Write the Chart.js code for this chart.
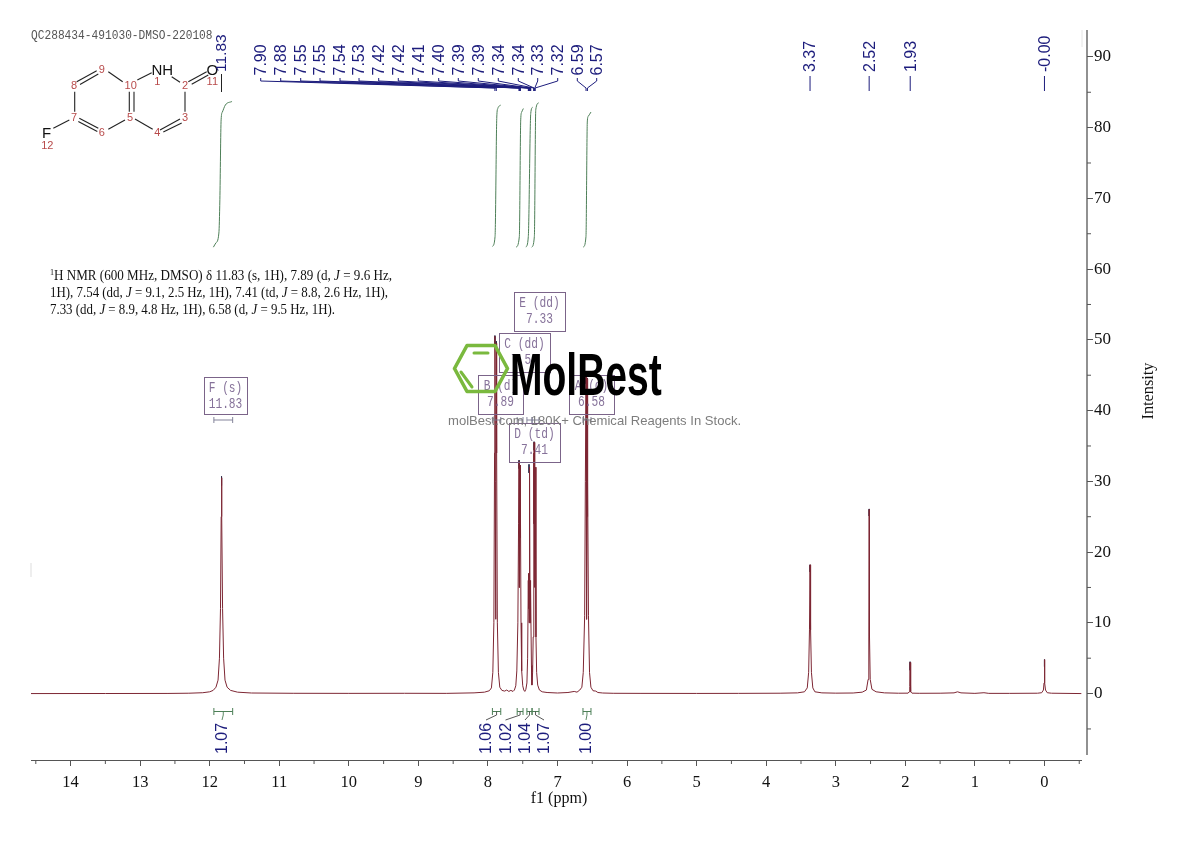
<!DOCTYPE html>
<html><head><meta charset="utf-8">
<style>html,body{margin:0;padding:0;background:#fff}canvas{display:block}</style>
<script src="https://cdn.jsdelivr.net/npm/chart.js@4/dist/chart.umd.min.js"></script>
</head><body><canvas id="c" width="1190" height="841"></canvas>
<script>
// ---------- data ----------
const spectrumPpm = [14.57,13.5,12.6,12.3,12.1,12.0,11.95,11.91,11.88,11.86,11.845,11.835,11.83,11.825,11.815,11.80,11.78,11.75,11.7,11.6,11.4,10.8,10,9.2,8.6,
 8.2,8.05,7.98,7.95,7.93,7.915,7.905,7.90,7.895,7.89,7.885,7.88,7.875,7.865,7.85,7.83,7.8,7.76,7.73,7.70,7.67,7.64,
 7.62,7.60,7.585,7.57,7.56,7.553,7.551,7.549,7.544,7.538,7.536,7.534,7.525,7.515,7.50,7.485,7.47,
 7.455,7.44,7.43,7.42,7.418,7.415,7.41,7.405,7.402,7.40,7.395,7.39,7.388,7.385,7.375,7.368,
 7.358,7.35,7.342,7.34,7.337,7.332,7.327,7.325,7.322,7.31,7.30,7.285,7.26,7.22,7.15,7.0,6.85,6.76,6.72,6.68,
 6.65,6.63,6.61,6.60,6.59,6.585,6.58,6.575,6.57,6.565,6.555,6.54,6.52,6.49,6.45,6.42,6.35,6.2,5.8,5,4.4,3.8,
 3.55,3.45,3.41,3.39,3.378,3.37,3.362,3.35,3.33,3.30,3.2,3.0,2.75,2.62,2.56,2.535,2.525,2.52,2.515,2.505,2.48,2.42,2.3,2.1,
 1.96,1.945,1.937,1.932,1.927,1.92,1.905,1.8,1.5,1.3,1.25,1.2,1.0,0.87,0.8,0.5,0.1,0.04,0.015,0.006,0,-0.006,-0.015,-0.04,-0.1,-0.53];
const spectrumIntensity = [0,0.01,0.02,0.05,0.12,0.25,0.45,0.9,1.9,5,12,25,30.5,25,12,5,1.9,0.9,0.45,0.2,0.08,0.04,0.03,0.04,0.03,
 0.1,0.2,0.4,0.8,3,10,34,50.5,30,10.5,30,49.5,34,10,3,0.9,0.45,0.35,0.5,0.3,0.45,0.3,
 0.5,1.1,3.2,10,24,32.8,22,30,15,32.3,22,30,10,3.2,1.1,0.5,0.3,
 0.6,1.5,5,16,12,17,10,32,24,32,10,16,12,15,4,1.2,
 3,8,34,24,35.5,15,33,24,32,8,3,1.2,0.5,0.25,0.15,0.08,0.15,0.3,0.2,0.5,
 0.9,3,11,30,45,25,10.5,25,44.5,30,11,3,0.9,0.4,0.35,0.15,0.08,0.04,0.03,0.02,0.03,0.05,
 0.1,0.25,0.8,3,9,18.2,9,3,0.8,0.25,0.1,0.06,0.08,0.2,0.5,2,8,26,8,2,0.6,0.25,0.1,0.05,
 0.06,0.25,1,4.4,1,0.25,0.06,0.04,0.05,0.1,0.25,0.1,0.03,0.12,0.03,0.03,0.05,0.12,0.5,1.5,4.8,1.5,0.5,0.12,0.05,0];
const tipPpm = [11.83,7.90,7.88,7.553,7.41,7.337,6.59,6.57,3.37,2.52,1.932,0];
const tipTop = [30.7,50.6,49.8,33,32.4,35.6,45,44.6,18.2,26.1,4.5,4.8];
const tipBottom = [29.4,49.3,48.6,31.8,31.2,34.4,43.8,43.4,17.2,25.1,3.3,3.8];
const integralPpmA = [11.947,11.911,11.868,11.854,11.836,11.818,11.775,11.679];
const integralValA = [63.1,63.7,65.1,69.8,81.1,82.2,83.2,83.7];
const integralPpmB = [7.936,7.898,7.873,7.859,7.816];
const integralValB = [63.2,64.6,81.5,82.7,83.2];
const integralPpmC = [7.596,7.549,7.529,7.515,7.491];
const integralValC = [63.1,64.6,81.1,82.2,82.7];
const integralPpmD = [7.453,7.420,7.385,7.357];
const integralValD = [63.1,64.6,82.0,82.9];
const integralPpmE = [7.371,7.333,7.313,7.270];
const integralValE = [63.1,64.6,82.5,83.5];
const integralPpmF = [6.630,6.591,6.572,6.558,6.519];
const integralValF = [63.1,64.6,80.8,81.6,82.2];
const peakLabelsLeft = ["7.90","7.88","7.55","7.55","7.54","7.53","7.42","7.42","7.41","7.40","7.39","7.39","7.34","7.34","7.33","7.32","6.59","6.57"];
const peakLabelsRight = ["3.37","2.52","1.93","-0.00"];
const integralLabels = ["1.07","1.06","1.02","1.04","1.07","1.00"];
const integralFrom = [11.94,7.936,7.58,7.44,7.366,6.634];
const integralTo = [11.67,7.816,7.496,7.366,7.266,6.519];
const multipletNames = ["F (s)","E (dd)","C (dd)","B (d)","A (d)","D (td)"];
const multipletShifts = ["11.83","7.33","7.54","7.89","6.58","7.41"];
const xTickStep = 1, yTickStep = 10;
const titleText = "QC288434-491030-DMSO-220108";
const nmrLines = [
 [["r","1",1],["r","H NMR (600 MHz, DMSO) δ 11.83 (s, 1H), 7.89 (d, "],["i","J"],["r"," = 9.6 Hz,"]],
 [["r","1H), 7.54 (dd, "],["i","J"],["r"," = 9.1, 2.5 Hz, 1H), 7.41 (td, "],["i","J"],["r"," = 8.8, 2.6 Hz, 1H),"]],
 [["r","7.33 (dd, "],["i","J"],["r"," = 8.9, 4.8 Hz, 1H), 6.58 (d, "],["i","J"],["r"," = 9.5 Hz, 1H)."]]
];
// ---------- drawing ----------
const zip=(a,b)=>a.map((v,i)=>({x:v,y:b[i]}));
const SERIF="'Liberation Serif',serif", SANS="'Liberation Sans',Arial,sans-serif", MONO="'Liberation Mono',monospace";
const NAVY="#1c1c7c", GREEN="#4d7f57", PURPLE="#7b6489", AXIS="#555";
const tips=[];tipPpm.forEach((p,i)=>{tips.push({x:p,y:tipTop[i]},{x:p,y:tipBottom[i]},{x:p,y:null});});
const integrals=[[integralPpmA,integralValA],[integralPpmB,integralValB],[integralPpmC,integralValC],[integralPpmD,integralValD],[integralPpmE,integralValE],[integralPpmF,integralValF]];

function line(ctx,pts,color,w){ctx.strokeStyle=color;ctx.lineWidth=w;ctx.beginPath();pts.forEach((p,i)=>i?ctx.lineTo(p[0],p[1]):ctx.moveTo(p[0],p[1]));ctx.stroke();}
function text(ctx,s,x,y,font,color,o={}){ctx.save();ctx.translate(x,y);if(o.rot)ctx.rotate(o.rot);if(o.sx)ctx.scale(o.sx,1);ctx.font=font;ctx.fillStyle=color;ctx.textAlign=o.align||"center";ctx.textBaseline=o.base||"middle";ctx.fillText(s,0,0);ctx.restore();}

const overlay={id:"overlay",afterDraw(ch){
 const ctx=ch.ctx,X=ch.scales.x,Y=ch.scales.y;
 const px=v=>X.getPixelForValue(v),py=v=>Y.getPixelForValue(v);
 ctx.save();
 // axis lines and minor ticks
 line(ctx,[[31,760.5],[1082,760.5]],AXIS,1.1);
 line(ctx,[[1087,30],[1087,755]],AXIS,1.3);
 for(let v=-0.5;v<14.6;v+=1)line(ctx,[[px(v),760.5],[px(v),764]],AXIS,1);
 for(let v=-5;v<93;v+=10)line(ctx,[[1087,py(v)],[1091,py(v)]],AXIS,1);
 line(ctx,[[31,563],[31,577]],"#ddd",1);
 line(ctx,[[1082,30],[1082,47]],"#e4e4e4",1);
 // y axis name
 text(ctx,"Intensity",1149,391,"16.3px "+SERIF,"#111",{rot:-Math.PI/2});
 // title
 text(ctx,titleText,31,35,"13.5px "+MONO,"#555",{align:"left",sx:0.83});
 // molecule
 [[[76.7,81.7],[96.7,70.7]],[[80,84.5],[98.3,74]],[[108.3,71.7],[122.7,81.7]],[[137.3,80],[151.7,72.7]],[[171.7,76.7],[180,82.3]],
  [[188.3,81.7],[206.7,71.7]],[[191.7,84.3],[208.3,75]],[[185,91.7],[185,111.7]],[[180,119],[160,130]],[[181.7,123],[163.3,132]],
  [[152.7,129.3],[135,119]],[[129.3,91.7],[129.3,111.7]],[[134,91.7],[134,111.7]],[[125,120],[108.3,129.3]],[[98.3,128.3],[79.3,118.3]],
  [[97.3,131.5],[78.3,121.5]],[[74.7,91.7],[74.7,111.7]],[[69.3,120],[53.3,128.3]]].forEach(b=>line(ctx,b,"#222",1.1));
 [["9",101.7,70],["8",74,86],["10",130.7,86],["1",157.3,82.3],["2",185,86],["11",212.3,82.3],["3",185,117.7],["5",130,118.3],["7",74,117.7],["6",101.7,133.3],["4",157.3,133.3],["12",47.3,146]]
  .forEach(a=>text(ctx,a[0],a[1],a[2],"11px "+SANS,"#b84a4a"));
 [["NH",162.3,70.7],["O",212.3,70.7],["F",46.7,134]].forEach(a=>text(ctx,a[0],a[1],a[2],"15px "+SANS,"#111"));
 // NMR text
 const widths=[342,338,285],bases=[280,297,314];
 nmrLines.forEach((runs,i)=>{
  const fnt=r=>(r[2]?"9px ":(r[0]==="i"?"italic 14.5px ":"14.5px "))+SERIF;
  let tot=0;runs.forEach(r=>{ctx.font=fnt(r);tot+=ctx.measureText(r[1]).width;});
  const s=widths[i]/tot;let x=50;
  runs.forEach(r=>{ctx.font=fnt(r);const w=ctx.measureText(r[1]).width;
   text(ctx,r[1],x,bases[i]-(r[2]?5:0),fnt(r),"#111",{align:"left",base:"alphabetic",sx:s});x+=w*s;});
 });
 // peak label leaders and labels
 const lblFont="16px "+SANS,lblRot=-Math.PI/2;
 const leftX=[260.7,280.7,300.7,320,340,359,378.7,398.3,418.3,438.7,458.3,478.3,498.3,518.3,537.7,557.7,577.3,596.7];
 const parse=s=>parseFloat(s);
 const leaderPeak=[7.90,7.88,7.553,7.549,7.538,7.534,7.42,7.415,7.405,7.40,7.39,7.385,7.342,7.337,7.327,7.322,6.59,6.57];
 peakLabelsLeft.forEach((s,i)=>{
  const lx=leftX[i],xp=px(leaderPeak[i]);
  line(ctx,[[lx,78],[lx,81],[xp,88],[xp,91]],NAVY,1);
  text(ctx,s,lx+1,75.5,lblFont,NAVY,{rot:lblRot,align:"left"});
 });
 text(ctx,"11.83",221.5,72,"15.5px "+SANS,NAVY,{rot:lblRot,align:"left"});
 line(ctx,[[221.5,74],[221.5,92]],"#222",1);
 peakLabelsRight.forEach(s=>{
  const v=Math.abs(parse(s)),xp=px(v);
  line(ctx,[[xp,76],[xp,91]],NAVY,1);
  text(ctx,s,xp+1,72,lblFont,NAVY,{rot:lblRot,align:"left"});
 });
 // multiplet boxes
 const boxes=[[204,377,43,37],[514,292,51,39],[499,333,51,39],[478,375,45,39],[569,375,45,39],[509,423,51,39]];
 boxes.forEach((b,i)=>{
  ctx.strokeStyle=PURPLE;ctx.lineWidth=1;ctx.strokeRect(b[0]+.5,b[1]+.5,b[2],b[3]);
  const c=b[0]+b[2]/2;
  text(ctx,multipletNames[i],c,b[1]+11.5,"14px "+MONO,"#86729a",{sx:0.8});
  text(ctx,multipletShifts[i],c,b[1]+27.5,"14px "+MONO,"#86729a",{sx:0.8});
 });
 // integrals: brackets on both levels and labels
 const lblX=[222,486,505.5,525,544,586];
 integralLabels.forEach((s,i)=>{
  const a=px(integralFrom[i]),b=px(integralTo[i]),yb=711.5,c=(a+b)/2;
  line(ctx,[[a,yb],[b,yb]],GREEN,1);line(ctx,[[a,yb-3.5],[a,yb+3.5]],GREEN,1);line(ctx,[[b,yb-3.5],[b,yb+3.5]],GREEN,1);
  line(ctx,[[c,yb],[c,715],[lblX[i],720]],i===0||i===5?GREEN:"#444",0.9);
  text(ctx,s,lblX[i]+1,754,lblFont,NAVY,{rot:lblRot,align:"left"});
  const y2=420;
  line(ctx,[[a,y2],[b,y2]],"#777790",0.9);line(ctx,[[a,y2-3],[a,y2+3]],"#777790",0.9);line(ctx,[[b,y2-3],[b,y2+3]],"#777790",0.9);
 });
 // watermark
 const G="#7ab93e";
 ctx.lineJoin="round";ctx.lineCap="round";
 line(ctx,[[454.5,368.5],[467,345.5],[495,345.5],[507.5,368.5],[495,391.5],[467,391.5],[454.5,368.5]],G,3.6);
 line(ctx,[[474,353],[488,353]],G,3);
 line(ctx,[[461,372],[472,387]],G,3);
 ctx.lineCap="butt";
 text(ctx,"MolBest",510,395,"bold 60px "+SANS,"#000",{align:"left",base:"alphabetic",sx:0.65});
 text(ctx,"molBest.com, 180K+ Chemical Reagents In Stock.",448,421,"13.3px "+SANS,"#7d7d7d",{align:"left",sx:0.983});
 ctx.restore();
}};

new Chart(document.getElementById("c"),{
 type:"line",
 data:{datasets:[
  {label:"spectrum",data:zip(spectrumPpm,spectrumIntensity),borderColor:"#7d2633",borderWidth:1,pointRadius:0,tension:0},
  ...integrals.map((g,i)=>({label:"integral"+i,data:zip(g[0],g[1]),borderColor:GREEN,borderWidth:1,pointRadius:0,cubicInterpolationMode:"monotone"})),
  {label:"tips",data:tips,borderColor:"#2b2b4a",borderWidth:1,pointRadius:0,spanGaps:false,tension:0}
 ]},
 plugins:[overlay],
 options:{
  responsive:false,animation:false,devicePixelRatio:1,
  layout:{padding:{left:31,top:30,right:0,bottom:0}},
  plugins:{legend:{display:false},tooltip:{enabled:false},title:{display:false}},
  scales:{
   x:{type:"linear",reverse:true,min:-0.6115,max:14.569,
    afterFit(s){s.height=81;},
    border:{display:false},grid:{display:true,drawOnChartArea:false,drawTicks:true,tickLength:6,tickColor:AXIS},
    ticks:{stepSize:xTickStep,includeBounds:false,autoSkip:false,maxRotation:0,padding:7,color:"#111",font:{family:"Liberation Serif",size:16.5},callback:v=>Number.isInteger(v)?String(v):""},
    title:{display:true,text:"f1 (ppm)",color:"#111",font:{family:"Liberation Serif",size:16},padding:{top:0,bottom:33}}},
   y:{type:"linear",position:"right",min:-9.39,max:93.8,
    afterFit(s){s.width=103;},
    border:{display:false},grid:{display:true,drawOnChartArea:false,drawTicks:true,tickLength:6,tickColor:AXIS},
    ticks:{stepSize:yTickStep,includeBounds:false,autoSkip:false,padding:1,color:"#111",font:{family:"Liberation Serif",size:17},callback:v=>Number.isInteger(v)&&v>=0?String(v):""}}
  }
 }
});
</script></body></html>
